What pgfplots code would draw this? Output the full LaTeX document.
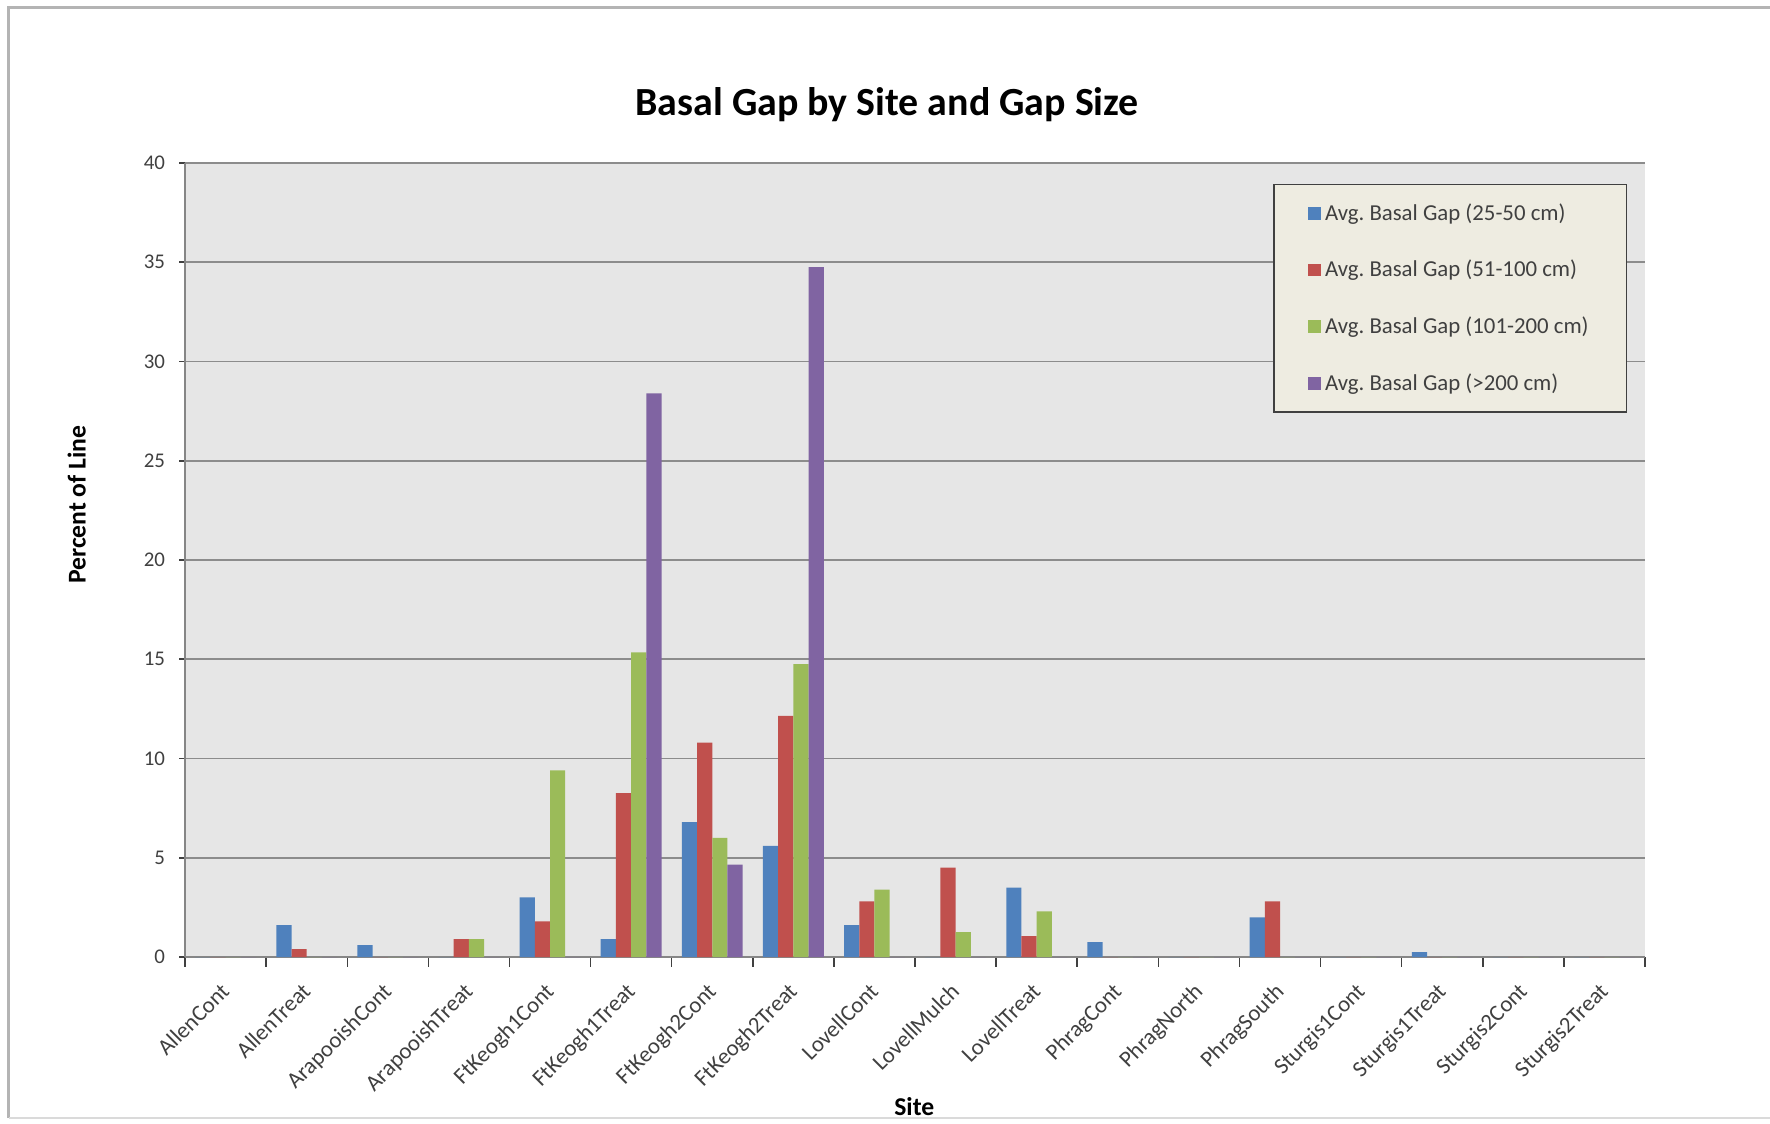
\documentclass[border=0pt]{standalone}
\usepackage{pgfplots}
\pgfplotsset{compat=1.18}
\usepackage{fontspec}
\setmainfont{Carlito}
\frenchspacing
\definecolor{sBlue}{HTML}{4F81BD}
\definecolor{sRed}{HTML}{C0504D}
\definecolor{sGreen}{HTML}{9BBB59}
\definecolor{sPurple}{HTML}{8064A2}
\definecolor{plotBg}{HTML}{E6E6E6}
\definecolor{gridGray}{HTML}{8C8C8C}
\definecolor{axisGray}{HTML}{868686}
\definecolor{legendBg}{HTML}{EEECE1}
\definecolor{legendBorder}{HTML}{404040}
\definecolor{frameGray}{HTML}{B4B4B4}
\definecolor{textGray}{HTML}{404040}
\begin{document}
\begin{tikzpicture}[x=1pt,y=1pt]
\path[use as bounding box] (0,0) rectangle (931.6,591.1);
\draw[frameGray, line width=1.6pt] (4.7,2.6) -- (4.7,587.1) -- (931.6,587.1);
\draw[frameGray!50, line width=0.8pt] (4.7,2.6) -- (931.6,2.6);
\node[font=\fontsize{21}{25}\selectfont\bfseries] at (466.9,536.0) {Basal Gap by Site and Gap Size};
\begin{axis}[
  at={(97.4pt,87.4pt)}, anchor=south west,
  width=768.4pt, height=417.9pt, scale only axis,
  xmin=-0.5, xmax=17.5, ymin=0, ymax=40,
  /pgf/number format/assume math mode=true,
  axis background/.style={fill=plotBg},
  axis x line*=bottom, axis y line*=left,
  axis line style={draw=axisGray, line width=1pt},
  ytick={0,5,...,40},
  ymajorgrids, grid style={draw=gridGray, line width=0.8pt},
  xtick={0,...,17},
  xticklabels={AllenCont,AllenTreat,ArapooishCont,ArapooishTreat,FtKeogh1Cont,FtKeogh1Treat,FtKeogh2Cont,FtKeogh2Treat,LovellCont,LovellMulch,LovellTreat,PhragCont,PhragNorth,PhragSouth,Sturgis1Cont,Sturgis1Treat,Sturgis2Cont,Sturgis2Treat},
  major x tick style={draw=none},
  minor xtick={-0.5,0.5,...,17.5},
  minor x tick style={draw=textGray, line width=0.8pt},
  minor tick length=5pt,
  major tick length=3pt,
  tick align=outside,
  y tick style={draw=textGray, line width=0.8pt},
  xticklabel style={rotate=45, anchor=north east, font=\fontsize{12}{14}\selectfont, text=textGray, yshift=-1.2pt, xshift=-5.8pt},
  yticklabel style={font=\fontsize{11}{13}\selectfont, text=textGray, xshift=-4pt},
  xlabel={Site}, ylabel={Percent of Line},
  xlabel style={font=\fontsize{13.5}{16}\selectfont\bfseries, at={(axis description cs:0.4995,-0.188)}, anchor=center},
  ylabel style={font=\fontsize{13.5}{16}\selectfont\bfseries, at={(axis description cs:-0.0742,0.5697)}, anchor=center},
  legend style={at={(0.7455,0.9737)}, anchor=north west,
    fill=legendBg, draw=legendBorder, line width=0.8pt,
    font=\fontsize{12}{14}\selectfont, text=textGray,
    row sep=15.5pt, inner xsep=18pt, inner ysep=8pt},
  legend cell align=left,
  sq/.style={legend image code/.code={\fill[##1] (0pt,-3.4pt) rectangle (6.8pt,3.4pt);}},
]
\addplot[ybar, bar width=0.1875, bar shift=-0.28125, fill=sBlue, draw=none, sq] coordinates {
(0,0) (1,1.6) (2,0.6) (3,0) (4,3.0) (5,0.9) (6,6.8) (7,5.6) (8,1.6) (9,0) (10,3.5) (11,0.75) (12,0) (13,2.0) (14,0) (15,0.25) (16,0) (17,0)};
\addlegendentry{Avg. Basal Gap (25-50 cm)}
\addplot[ybar, bar width=0.1875, bar shift=-0.09375, fill=sRed, draw=none, sq] coordinates {
(0,0) (1,0.4) (2,0) (3,0.9) (4,1.8) (5,8.25) (6,10.8) (7,12.15) (8,2.8) (9,4.5) (10,1.05) (11,0) (12,0) (13,2.8) (14,0) (15,0) (16,0) (17,0)};
\addlegendentry{Avg. Basal Gap (51-100 cm)}
\addplot[ybar, bar width=0.1875, bar shift=0.09375, fill=sGreen, draw=none, sq] coordinates {
(0,0) (1,0) (2,0) (3,0.9) (4,9.4) (5,15.35) (6,6.0) (7,14.75) (8,3.4) (9,1.25) (10,2.3) (11,0) (12,0) (13,0) (14,0) (15,0) (16,0) (17,0)};
\addlegendentry{Avg. Basal Gap (101-200 cm)}
\addplot[ybar, bar width=0.1875, bar shift=0.28125, fill=sPurple, draw=none, sq] coordinates {
(0,0) (1,0) (2,0) (3,0) (4,0) (5,28.4) (6,4.65) (7,34.75) (8,0) (9,0) (10,0) (11,0) (12,0) (13,0) (14,0) (15,0) (16,0) (17,0)};
\addlegendentry{Avg. Basal Gap (>200 cm)}
\end{axis}
\end{tikzpicture}
\end{document}
